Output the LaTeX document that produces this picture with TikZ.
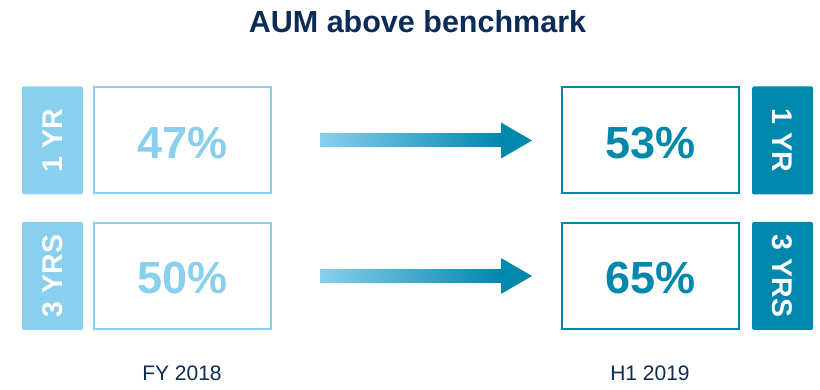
\documentclass[tikz,border=0pt]{standalone}
\usepackage{fontspec}
\setmainfont{Liberation Sans}
\definecolor{skyblue}{RGB}{137,207,238}
\definecolor{deepteal}{RGB}{0,135,172}
\definecolor{navyink}{RGB}{12,43,86}
\begin{document}
\begin{tikzpicture}[x=1pt,y=-1pt,
  tabbox/.style={rounded corners=1.5pt, minimum width=61pt, minimum height=108pt, inner sep=0pt},
  tabtext/.style={text=white, font=\fontsize{28.5}{28.5}\selectfont\bfseries, inner sep=0pt},
  valbox/.style={line width=2pt, minimum width=177pt, minimum height=106pt, inner sep=0pt},
  valtext/.style={font=\fontsize{45}{45}\selectfont\bfseries, inner sep=0pt, yshift=-2.5pt},
  period/.style={text=navyink, font=\fontsize{21}{21}\selectfont},
  shaft/.style={left color=skyblue, right color=deepteal, draw=none},
]
\useasboundingbox (0,0) rectangle (820,390);

% title
\node[text=navyink, font=\fontsize{30.5}{30.5}\selectfont\bfseries] (title) at (417.5,22) {AUM above benchmark};

% FY 2018 column
\node[tabbox, fill=skyblue] (tabL1) at (52.5,140.5) {};
\node[tabtext, rotate=90] at (tabL1) {1 YR};
\node[valbox, draw=skyblue] (valL1) at (182.5,140.5) {};
\node[valtext, text=skyblue] at (valL1) {47\%};
\node[tabbox, fill=skyblue] (tabL2) at (52.5,276) {};
\node[tabtext, rotate=90] at (tabL2) {3 YRS};
\node[valbox, draw=skyblue] (valL2) at (182.5,276) {};
\node[valtext, text=skyblue] at (valL2) {50\%};
\node[period] (fy) at (182,373) {FY 2018};

% H1 2019 column
\node[valbox, draw=deepteal] (valR1) at (650.5,140.5) {};
\node[valtext, text=deepteal] at (valR1) {53\%};
\node[tabbox, fill=deepteal] (tabR1) at (782.5,140.5) {};
\node[tabtext, rotate=-90] at (tabR1) {1 YR};
\node[valbox, draw=deepteal] (valR2) at (650.5,276) {};
\node[valtext, text=deepteal] at (valR2) {65\%};
\node[tabbox, fill=deepteal] (tabR2) at (782.5,276) {};
\node[tabtext, rotate=-90] at (tabR2) {3 YRS};
\node[period] (h1) at (650,373) {H1 2019};

% gradient arrows between the columns
\foreach \r/\a/\b in {1/valL1/valR1, 2/valL2/valR2} {
  \coordinate (s\r) at ([xshift=48pt]\a.east);
  \coordinate (h\r) at ([xshift=-60pt]\b.west);
  \coordinate (t\r) at ([xshift=-29pt]\b.west);
  \shade[shaft] ([yshift=-6.5pt]s\r) rectangle ([yshift=6.5pt]h\r);
  \fill[deepteal] ([yshift=-18pt]h\r) -- (t\r) -- ([yshift=18pt]h\r) -- cycle;
}
\end{tikzpicture}
\end{document}
